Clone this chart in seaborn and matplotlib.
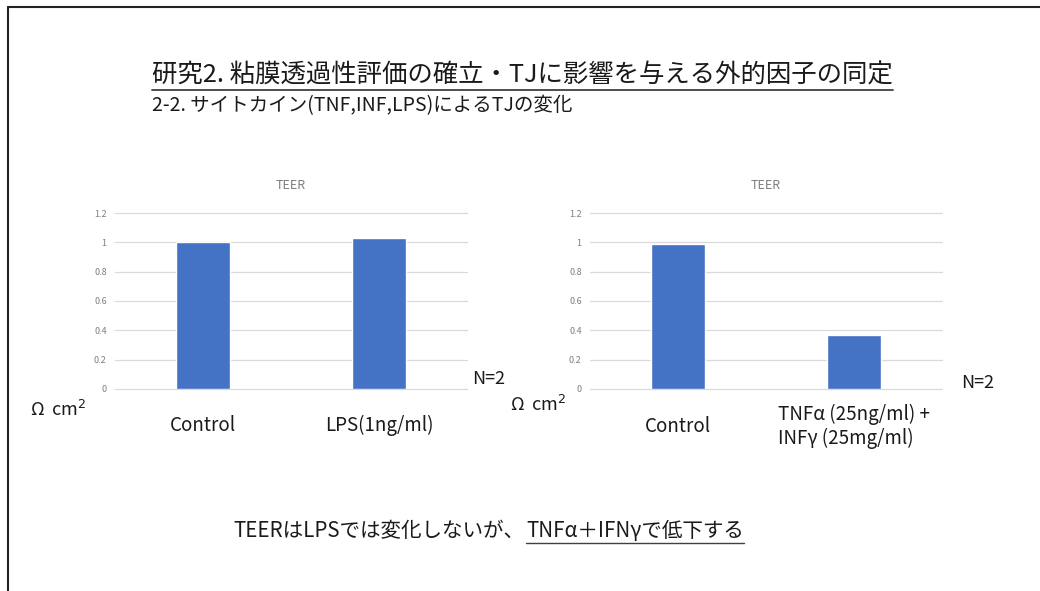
import matplotlib
matplotlib.use("Agg")
import matplotlib.pyplot as plt
from matplotlib.lines import Line2D
import seaborn as sns
import pandas as pd

# ---------------- data ----------------
title_main = "研究2. 粘膜透過性評価の確立・TJに影響を与える外的因子の同定"
title_sub = "2-2. サイトカイン(TNF,INF,LPS)によるTJの変化"
chart_title = "TEER"
left_categories = ["Control", "LPS(1ng/ml)"]
left_values = [1.00, 1.03]
right_categories = ["Control", "TNF\u03b1 (25ng/ml) +\nINF\u03b3 (25mg/ml)"]
right_values = [0.99, 0.37]
y_ticks = [0, 0.2, 0.4, 0.6, 0.8, 1.0, 1.2]
y_tick_labels = ["0", "0.2", "0.4", "0.6", "0.8", "1", "1.2"]
unit_label = "\u03a9  cm$^{2}$"
n_label = "N=2"
footer_plain = "TEERはLPSでは変化しないが、"
footer_under = "TNF\u03b1\uff0bIFN\u03b3で低下する"

# ---------------- style ----------------
sns.set_style("white")
plt.rcParams["font.family"] = ["Noto Sans CJK JP", "DejaVu Sans"]
plt.rcParams["mathtext.fontset"] = "dejavusans"

W, H = 1040, 591
DPI = 100
fig = plt.figure(figsize=(W / DPI, H / DPI), dpi=DPI)
fig.patch.set_facecolor("white")

BAR = "#4472C4"
GRID = "#d9d9d9"
TICK = "#7f7f7f"
TXT = "#1a1a1a"


def px(x, y):
    return x / W, 1 - y / H


def make_chart(x0, x1, cats, vals, pad_pt):
    left, top = px(x0, 213)
    right, bottom = px(x1, 389)
    ax = fig.add_axes([left, bottom, right - left, top - bottom])
    df = pd.DataFrame({"cat": cats, "val": vals})
    sns.barplot(data=df, x="cat", y="val", color=BAR, width=0.31,
                saturation=1, ax=ax, errorbar=None)
    ax.set_xlim(-0.5, 1.5)
    ax.set_ylim(0, 1.2)
    ax.set_yticks(y_ticks)
    ax.set_yticklabels(y_tick_labels)
    for s in ax.spines.values():
        s.set_visible(False)
    ax.yaxis.grid(True, color=GRID, lw=0.9)
    for gl in ax.get_ygridlines():
        gl.set_clip_on(False)
    ax.set_axisbelow(True)
    ax.tick_params(axis="y", length=0, pad=6, labelsize=6.5, labelcolor=TICK)
    ax.tick_params(axis="x", length=0, pad=pad_pt, labelsize=13.5, labelcolor=TXT)
    for lab in ax.get_xticklabels():
        lab.set_va("center")
        lab.set_multialignment("left")
    ax.set_xlabel("")
    ax.set_ylabel("")
    ax.set_title(chart_title, fontsize=9, color=TICK, pad=17)
    return ax


axL = make_chart(115, 467, left_categories, left_values, 26)
axR = make_chart(590, 942, right_categories, right_values, 27)

# side labels
fig.text(*px(30, 410), unit_label, fontsize=13, color=TXT, va="center", ha="left")
fig.text(*px(510, 405), unit_label, fontsize=13, color=TXT, va="center", ha="left")
fig.text(*px(472, 379), n_label, fontsize=13, color=TXT, va="center", ha="left")
fig.text(*px(961, 383), n_label, fontsize=13, color=TXT, va="center", ha="left")

# titles
t1 = fig.text(*px(152, 76), title_main, fontsize=18.3, color=TXT, va="center", ha="left")
t2 = fig.text(*px(152, 106), title_sub, fontsize=14, color=TXT, va="center", ha="left")

# footer
f1 = fig.text(*px(233, 531), footer_plain, fontsize=14.8, color=TXT, va="center", ha="left")

fig.canvas.draw()
r = fig.canvas.get_renderer()
e1 = f1.get_window_extent(r)
f2 = fig.text((e1.x1 + 2) / W, 1 - 531 / H, footer_under, fontsize=14.8, color=TXT,
              va="center", ha="left")
fig.canvas.draw()
e2 = f2.get_window_extent(r)
et = t1.get_window_extent(r)


def underline(ext, lw, color):
    y = (ext.y0 - 1) / H
    fig.add_artist(Line2D([ext.x0 / W, ext.x1 / W], [y, y], color=color, lw=lw,
                          transform=fig.transFigure))


underline(et, 1.3, "#404040")
underline(e2, 1.0, "#404040")

# slide border (top and left)
fig.add_artist(Line2D([8 / W, 1.0], [1 - 7 / H, 1 - 7 / H], color="#222222", lw=1.5,
                      transform=fig.transFigure))
fig.add_artist(Line2D([8 / W, 8 / W], [1 - 7 / H, 0], color="#222222", lw=1.5,
                      transform=fig.transFigure))

fig.savefig("out.png", dpi=DPI, facecolor="white")
